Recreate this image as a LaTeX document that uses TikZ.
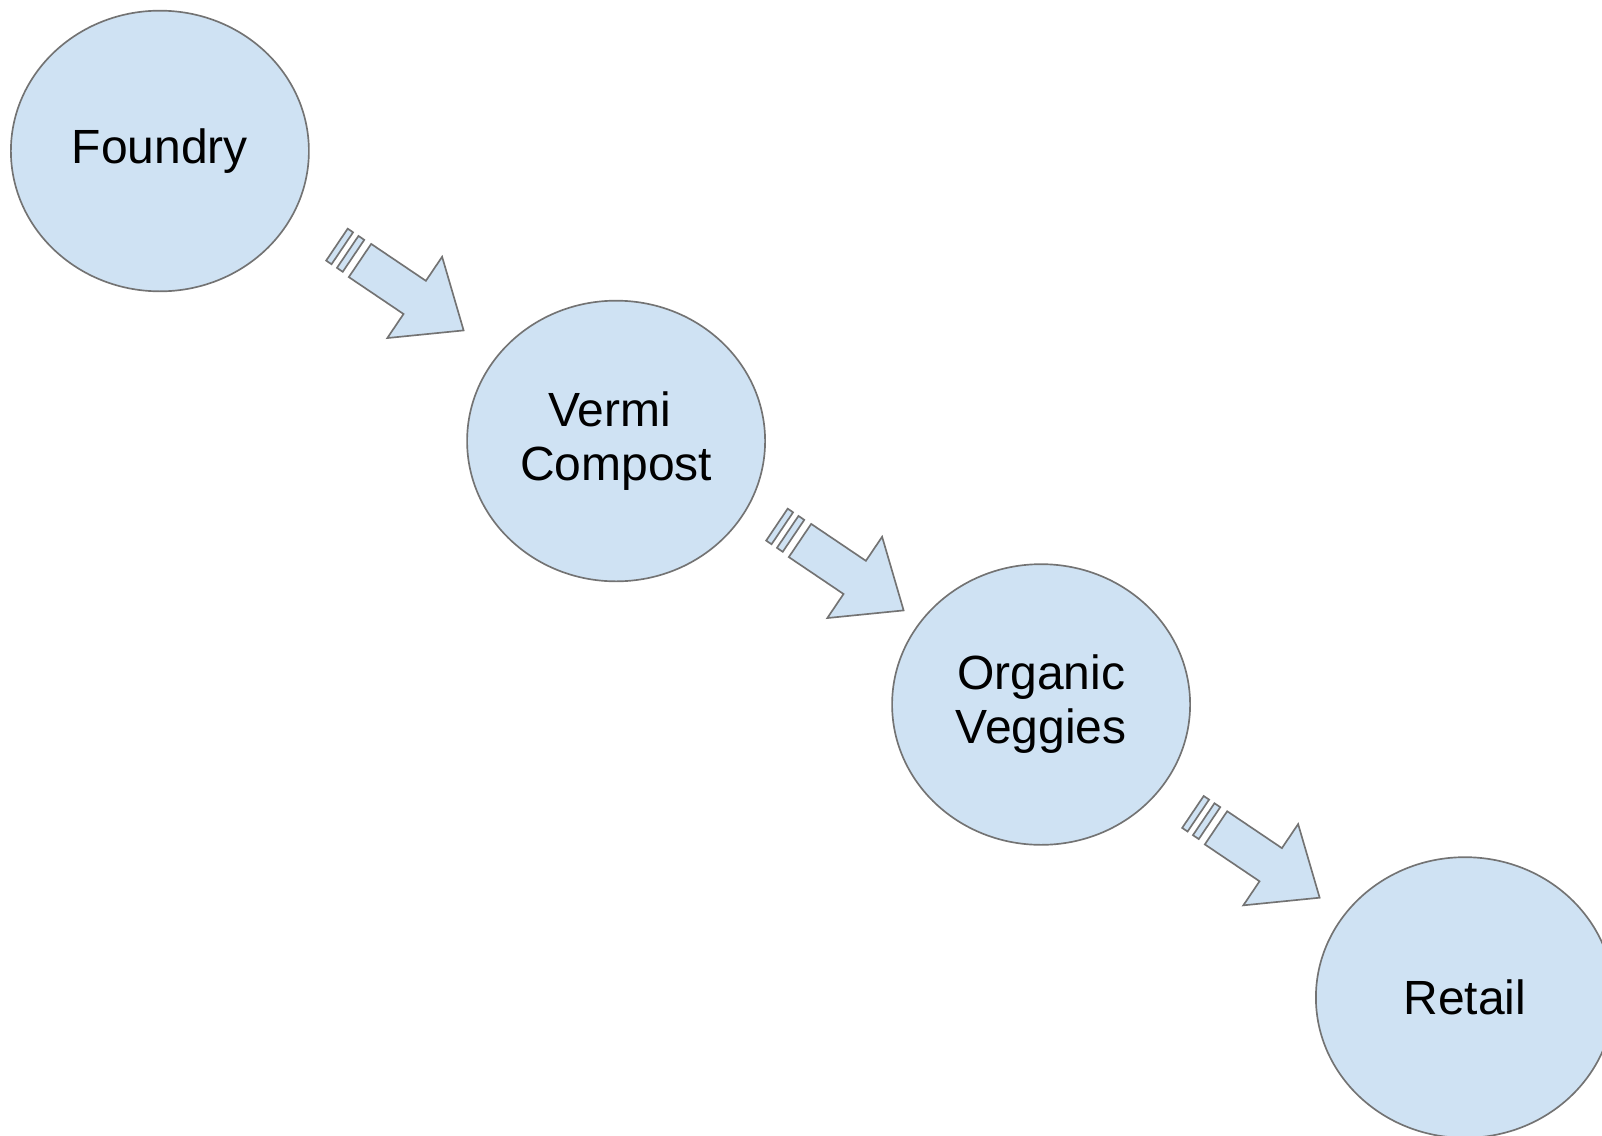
\documentclass[tikz,border=0pt]{standalone}
\usepackage{fontspec}
\setmainfont{Liberation Sans}
\usetikzlibrary{shapes.geometric}
\definecolor{bubble}{HTML}{CFE2F3}
\definecolor{rim}{HTML}{737373}
\tikzset{
    stage/.style = {draw=rim, fill=bubble, ellipse, line width=1.25pt, inner sep=0pt, minimum width=223.5pt, minimum height=210.5pt, align=center, font=\fontsize{36pt}{40.5pt}\selectfont},
    flow-arrow/.pic = {
        \draw[draw=rim, fill=bubble, line width=1.25pt] (0,-20) -- (66,-20) -- (66,-49) -- (125,0) -- (66,49) -- (66,20) -- (0,20) -- cycle;
        \draw[draw=rim, fill=bubble, line width=1.25pt] (-15,-19.5) rectangle (-8,19);
        \draw[draw=rim, fill=bubble, line width=1.25pt] (-28,-19.5) rectangle (-21.5,19);
    },
}

\begin{document}
\begin{tikzpicture}[x=0.75pt, y=-0.75pt]
\useasboundingbox (0,0) rectangle (1602,1135);
\node[stage] (foundry) at (159.9,151) {Foundry};
\node[stage] (vermi) at (616.1,441) {Vermi\hspace*{0.28em}\\Compost};
\node[stage] (veggies) at (1041.1,704.5) {Organic\\Veggies};
\node[stage] (retail) at (1464.9,997.5) {Retail};
\pic[rotate=-34] at (360,260.5) {flow-arrow};
\pic[rotate=-34] at (800,540.5) {flow-arrow};
\pic[rotate=-34] at (1216,827.8) {flow-arrow};
\end{tikzpicture}
\end{document}
